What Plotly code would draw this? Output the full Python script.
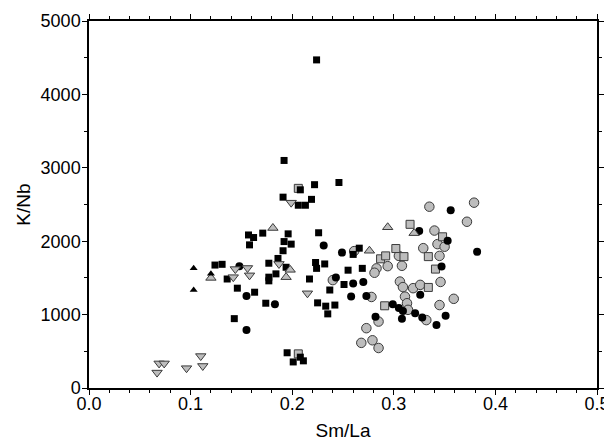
import plotly.graph_objects as go

# ---------------- data ----------------
x_ticks = [0.0, 0.1, 0.2, 0.3, 0.4, 0.5]
x_tick_labels = ["0.0", "0.1", "0.2", "0.3", "0.4", "0.5"]
y_ticks = [0, 1000, 2000, 3000, 4000, 5000]
y_tick_labels = ["0", "1000", "2000", "3000", "4000", "5000"]

black_sq_x = [0.224, 0.192, 0.208, 0.222, 0.191, 0.206, 0.213, 0.219, 0.246, 0.157,
              0.162, 0.171, 0.158, 0.196, 0.192, 0.199, 0.191, 0.186, 0.226, 0.177,
              0.194, 0.184, 0.177, 0.177, 0.124, 0.131, 0.136, 0.146, 0.143, 0.163,
              0.174, 0.217, 0.225, 0.233, 0.235, 0.223, 0.224, 0.232, 0.237, 0.195,
              0.201, 0.208, 0.211, 0.255, 0.269, 0.251, 0.242, 0.260, 0.266]
black_sq_y = [4470, 3100, 2700, 2770, 2600, 2490, 2490, 2570, 2800, 2085,
              2050, 2110, 1950, 2100, 1995, 1960, 1870, 1765, 2115, 1700,
              1645, 1555, 1510, 1460, 1675, 1685, 1485, 1360, 945, 1305,
              1155, 1485, 1160, 1115, 1010, 1710, 1630, 1690, 1335, 480,
              355, 420, 370, 1605, 1630, 1410, 1130, 1820, 1905]

black_ci_x = [0.148, 0.155, 0.155, 0.183, 0.231, 0.249, 0.243, 0.260, 0.270, 0.258,
              0.273, 0.282, 0.299, 0.305, 0.309, 0.308, 0.321, 0.328, 0.326, 0.325,
              0.353, 0.347, 0.351, 0.342, 0.356, 0.382]
black_ci_y = [1660, 1255, 790, 1140, 1940, 1845, 1505, 1425, 1445, 1245,
              1255, 970, 1140, 1090, 1050, 945, 1020, 960, 1270, 2140,
              2005, 1655, 985, 860, 2420, 1855]

gray_ci_x = [0.261, 0.283, 0.281, 0.294, 0.305, 0.308, 0.240, 0.278, 0.285, 0.273,
             0.268, 0.279, 0.285, 0.306, 0.309, 0.319, 0.326, 0.311, 0.313, 0.314,
             0.332, 0.329, 0.335, 0.340, 0.343, 0.350, 0.345, 0.346, 0.359, 0.345,
             0.379, 0.372]
gray_ci_y = [1865, 1630, 1570, 1660, 1800, 1665, 1470, 1240, 905, 815,
             615, 650, 545, 1450, 1375, 1360, 1405, 1245, 1155, 1065,
             925, 1905, 2470, 2145, 1960, 1925, 1800, 1445, 1215, 1130,
             2525, 2265]

gray_sq_x = [0.206, 0.206, 0.287, 0.292, 0.302, 0.310, 0.291, 0.316, 0.348, 0.334,
             0.341, 0.334]
gray_sq_y = [2720, 465, 1760, 1800, 1900, 1790, 1120, 2230, 2060, 1790,
             1620, 1370]

gray_up_x = [0.120, 0.181, 0.198, 0.194, 0.276, 0.294, 0.320]
gray_up_y = [1500, 2180, 1610, 1510, 1870, 2190, 2110]

black_up_x = [0.103, 0.103, 0.120]
black_up_y = [1630, 1335, 1555]

gray_dn_x = [0.144, 0.142, 0.156, 0.158, 0.199, 0.187, 0.215, 0.069, 0.074, 0.067,
             0.096, 0.110, 0.112]
gray_dn_y = [1620, 1510, 1635, 1535, 2525, 1690, 1290, 335, 335, 210,
             270, 435, 300]

# ---------------- styles ----------------
GRAY = "#bdbdbd"
EDGE = "#3a3a3a"
FONT = "Liberation Sans, Arial, Helvetica, sans-serif"

fig = go.Figure()

def add(xs, ys, symbol, size, fill, edge, lw):
    fig.add_trace(go.Scatter(
        x=xs, y=ys, mode="markers", showlegend=False, hoverinfo="skip",
        marker=dict(symbol=symbol, size=size, color=fill,
                    line=dict(color=edge, width=lw))))

add(gray_ci_x, gray_ci_y, "circle", 9.5, GRAY, EDGE, 1)
add(gray_sq_x, gray_sq_y, "square", 8, GRAY, EDGE, 1)
add(black_ci_x, black_ci_y, "circle", 8, "black", "black", 0)
add(black_sq_x, black_sq_y, "square", 7, "black", "black", 0)
add(gray_up_x, gray_up_y, "triangle-up", 9, GRAY, EDGE, 1)
add(black_up_x, black_up_y, "triangle-up", 7, "black", "black", 0)
add(gray_dn_x, gray_dn_y, "triangle-down", 9, GRAY, EDGE, 1)

axis_common = dict(
    showline=True, linecolor="black", linewidth=1.5, mirror="ticks",
    ticks="outside", ticklen=5, tickwidth=1, tickcolor="black",
    showgrid=False, zeroline=False, automargin=False,
    tickfont=dict(family=FONT, size=18, color="black"),
)

# the page body has an 8 px margin, so the figure is made 8 px smaller
fig.update_layout(
    width=604, height=434,
    margin=dict(l=81, r=15, t=13, b=54),
    paper_bgcolor="white", plot_bgcolor="white",
    font=dict(family=FONT, color="black"),
    xaxis=dict(range=[0, 0.5], tickvals=x_ticks, ticktext=x_tick_labels,
               ticklabelstandoff=-6,
               minor=dict(dtick=0.02, ticklen=3, ticks="outside", tickcolor="black"),
               title=dict(text="Sm/La", font=dict(family=FONT, size=19), standoff=10),
               **axis_common),
    yaxis=dict(range=[0, 5000], tickvals=y_ticks, ticktext=y_tick_labels,
               ticklabelstandoff=-2,
               minor=dict(dtick=500, ticklen=3, ticks="outside", tickcolor="black"),
               title=dict(text="K/Nb", font=dict(family=FONT, size=19), standoff=5),
               **axis_common),
)

fig.write_html("out.html")
